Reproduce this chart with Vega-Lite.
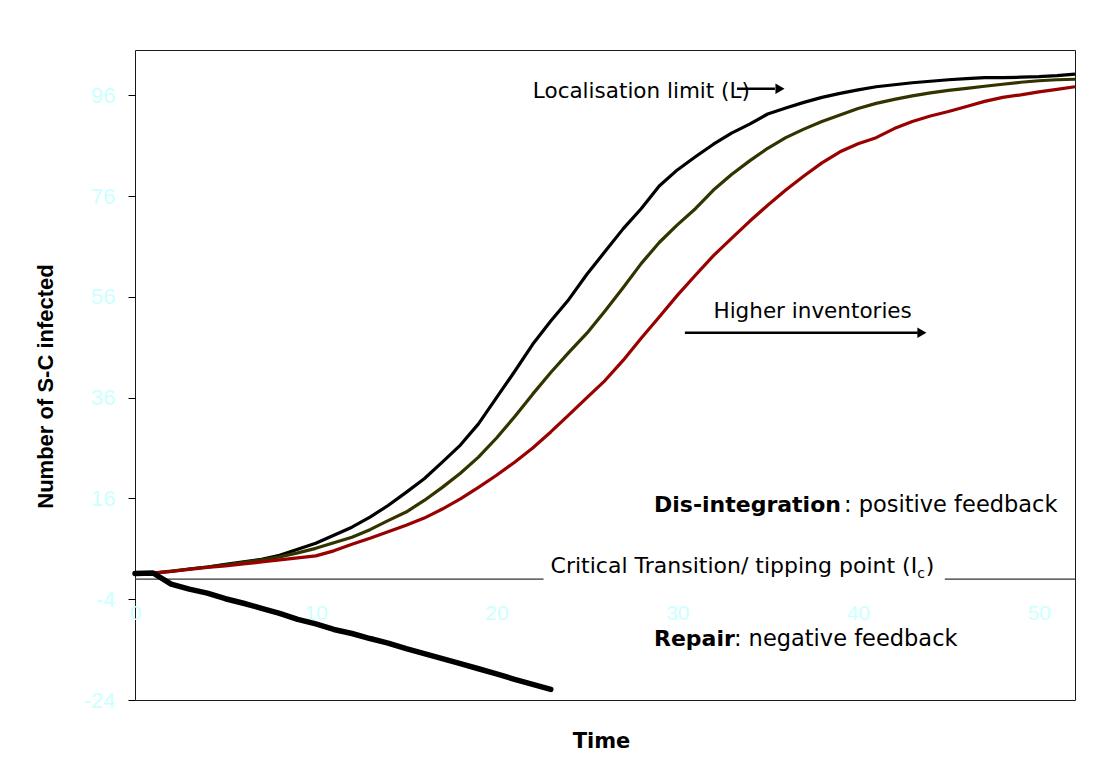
{
  "$schema": "https://vega.github.io/schema/vega-lite/v6.json",
  "width": 940,
  "height": 650,
  "autosize": {"type": "none"},
  "padding": {"left": 135, "top": 50, "right": 39, "bottom": 78},
  "background": "white",
  "config": {"view": {"stroke": "#1a1a1a", "strokeWidth": 1}, "axis": {"grid": false}},
  "datasets": {
    "curves": [
      {"t":0,"v":1.0,"series":"Low inventory"},{"t":1,"v":1.2,"series":"Low inventory"},{"t":2,"v":1.5,"series":"Low inventory"},{"t":3,"v":2.0,"series":"Low inventory"},{"t":4,"v":2.4,"series":"Low inventory"},{"t":5,"v":2.9,"series":"Low inventory"},{"t":6,"v":3.4,"series":"Low inventory"},{"t":7,"v":3.9,"series":"Low inventory"},{"t":8,"v":4.7,"series":"Low inventory"},{"t":9,"v":5.9,"series":"Low inventory"},{"t":10,"v":7.1,"series":"Low inventory"},{"t":11,"v":8.7,"series":"Low inventory"},{"t":12,"v":10.3,"series":"Low inventory"},{"t":13,"v":12.3,"series":"Low inventory"},{"t":14,"v":14.6,"series":"Low inventory"},{"t":15,"v":17.2,"series":"Low inventory"},{"t":16,"v":19.9,"series":"Low inventory"},{"t":17,"v":23.2,"series":"Low inventory"},{"t":18,"v":26.6,"series":"Low inventory"},{"t":19,"v":30.8,"series":"Low inventory"},{"t":20,"v":36.0,"series":"Low inventory"},{"t":21,"v":41.2,"series":"Low inventory"},{"t":22,"v":46.6,"series":"Low inventory"},{"t":23,"v":51.2,"series":"Low inventory"},{"t":24,"v":55.5,"series":"Low inventory"},{"t":25,"v":60.5,"series":"Low inventory"},{"t":26,"v":65.0,"series":"Low inventory"},{"t":27,"v":69.5,"series":"Low inventory"},{"t":28,"v":73.5,"series":"Low inventory"},{"t":29,"v":78.0,"series":"Low inventory"},{"t":30,"v":81.2,"series":"Low inventory"},{"t":31,"v":83.8,"series":"Low inventory"},{"t":32,"v":86.3,"series":"Low inventory"},{"t":33,"v":88.5,"series":"Low inventory"},{"t":34,"v":90.3,"series":"Low inventory"},{"t":35,"v":92.3,"series":"Low inventory"},{"t":36,"v":93.5,"series":"Low inventory"},{"t":37,"v":94.6,"series":"Low inventory"},{"t":38,"v":95.6,"series":"Low inventory"},{"t":39,"v":96.4,"series":"Low inventory"},{"t":40,"v":97.1,"series":"Low inventory"},{"t":41,"v":97.7,"series":"Low inventory"},{"t":42,"v":98.1,"series":"Low inventory"},{"t":43,"v":98.5,"series":"Low inventory"},{"t":44,"v":98.8,"series":"Low inventory"},{"t":45,"v":99.1,"series":"Low inventory"},{"t":46,"v":99.3,"series":"Low inventory"},{"t":47,"v":99.5,"series":"Low inventory"},{"t":48,"v":99.5,"series":"Low inventory"},{"t":49,"v":99.6,"series":"Low inventory"},{"t":50,"v":99.7,"series":"Low inventory"},{"t":51,"v":99.9,"series":"Low inventory"},{"t":52,"v":100.2,"series":"Low inventory"},
      {"t":0,"v":1.0,"series":"Medium inventory"},{"t":1,"v":1.2,"series":"Medium inventory"},{"t":2,"v":1.6,"series":"Medium inventory"},{"t":3,"v":2.0,"series":"Medium inventory"},{"t":4,"v":2.4,"series":"Medium inventory"},{"t":5,"v":2.8,"series":"Medium inventory"},{"t":6,"v":3.3,"series":"Medium inventory"},{"t":7,"v":3.8,"series":"Medium inventory"},{"t":8,"v":4.4,"series":"Medium inventory"},{"t":9,"v":5.2,"series":"Medium inventory"},{"t":10,"v":6.1,"series":"Medium inventory"},{"t":11,"v":7.2,"series":"Medium inventory"},{"t":12,"v":8.3,"series":"Medium inventory"},{"t":13,"v":9.8,"series":"Medium inventory"},{"t":14,"v":11.6,"series":"Medium inventory"},{"t":15,"v":13.3,"series":"Medium inventory"},{"t":16,"v":15.6,"series":"Medium inventory"},{"t":17,"v":18.2,"series":"Medium inventory"},{"t":18,"v":21.0,"series":"Medium inventory"},{"t":19,"v":24.2,"series":"Medium inventory"},{"t":20,"v":28.0,"series":"Medium inventory"},{"t":21,"v":32.2,"series":"Medium inventory"},{"t":22,"v":36.7,"series":"Medium inventory"},{"t":23,"v":41.0,"series":"Medium inventory"},{"t":24,"v":45.0,"series":"Medium inventory"},{"t":25,"v":48.8,"series":"Medium inventory"},{"t":26,"v":53.2,"series":"Medium inventory"},{"t":27,"v":57.8,"series":"Medium inventory"},{"t":28,"v":62.6,"series":"Medium inventory"},{"t":29,"v":66.8,"series":"Medium inventory"},{"t":30,"v":70.3,"series":"Medium inventory"},{"t":31,"v":73.5,"series":"Medium inventory"},{"t":32,"v":77.2,"series":"Medium inventory"},{"t":33,"v":80.3,"series":"Medium inventory"},{"t":34,"v":83.0,"series":"Medium inventory"},{"t":35,"v":85.5,"series":"Medium inventory"},{"t":36,"v":87.6,"series":"Medium inventory"},{"t":37,"v":89.3,"series":"Medium inventory"},{"t":38,"v":90.8,"series":"Medium inventory"},{"t":39,"v":92.1,"series":"Medium inventory"},{"t":40,"v":93.4,"series":"Medium inventory"},{"t":41,"v":94.4,"series":"Medium inventory"},{"t":42,"v":95.2,"series":"Medium inventory"},{"t":43,"v":95.9,"series":"Medium inventory"},{"t":44,"v":96.5,"series":"Medium inventory"},{"t":45,"v":97.0,"series":"Medium inventory"},{"t":46,"v":97.4,"series":"Medium inventory"},{"t":47,"v":97.8,"series":"Medium inventory"},{"t":48,"v":98.2,"series":"Medium inventory"},{"t":49,"v":98.6,"series":"Medium inventory"},{"t":50,"v":98.9,"series":"Medium inventory"},{"t":51,"v":99.1,"series":"Medium inventory"},{"t":52,"v":99.2,"series":"Medium inventory"},
      {"t":0,"v":1.0,"series":"High inventory"},{"t":1,"v":1.2,"series":"High inventory"},{"t":2,"v":1.5,"series":"High inventory"},{"t":3,"v":1.9,"series":"High inventory"},{"t":4,"v":2.3,"series":"High inventory"},{"t":5,"v":2.6,"series":"High inventory"},{"t":6,"v":3.0,"series":"High inventory"},{"t":7,"v":3.4,"series":"High inventory"},{"t":8,"v":3.8,"series":"High inventory"},{"t":9,"v":4.2,"series":"High inventory"},{"t":10,"v":4.6,"series":"High inventory"},{"t":11,"v":5.6,"series":"High inventory"},{"t":12,"v":6.9,"series":"High inventory"},{"t":13,"v":8.1,"series":"High inventory"},{"t":14,"v":9.4,"series":"High inventory"},{"t":15,"v":10.7,"series":"High inventory"},{"t":16,"v":12.1,"series":"High inventory"},{"t":17,"v":13.9,"series":"High inventory"},{"t":18,"v":15.9,"series":"High inventory"},{"t":19,"v":18.2,"series":"High inventory"},{"t":20,"v":20.6,"series":"High inventory"},{"t":21,"v":23.2,"series":"High inventory"},{"t":22,"v":26.0,"series":"High inventory"},{"t":23,"v":29.2,"series":"High inventory"},{"t":24,"v":32.6,"series":"High inventory"},{"t":25,"v":36.0,"series":"High inventory"},{"t":26,"v":39.4,"series":"High inventory"},{"t":27,"v":43.4,"series":"High inventory"},{"t":28,"v":47.8,"series":"High inventory"},{"t":29,"v":52.0,"series":"High inventory"},{"t":30,"v":56.3,"series":"High inventory"},{"t":31,"v":60.3,"series":"High inventory"},{"t":32,"v":64.2,"series":"High inventory"},{"t":33,"v":67.6,"series":"High inventory"},{"t":34,"v":71.0,"series":"High inventory"},{"t":35,"v":74.2,"series":"High inventory"},{"t":36,"v":77.2,"series":"High inventory"},{"t":37,"v":80.0,"series":"High inventory"},{"t":38,"v":82.6,"series":"High inventory"},{"t":39,"v":84.8,"series":"High inventory"},{"t":40,"v":86.4,"series":"High inventory"},{"t":41,"v":87.6,"series":"High inventory"},{"t":42,"v":89.4,"series":"High inventory"},{"t":43,"v":90.8,"series":"High inventory"},{"t":44,"v":91.9,"series":"High inventory"},{"t":45,"v":92.8,"series":"High inventory"},{"t":46,"v":93.8,"series":"High inventory"},{"t":47,"v":94.8,"series":"High inventory"},{"t":48,"v":95.6,"series":"High inventory"},{"t":49,"v":96.1,"series":"High inventory"},{"t":50,"v":96.7,"series":"High inventory"},{"t":51,"v":97.2,"series":"High inventory"},{"t":52,"v":97.7,"series":"High inventory"}
    ],
    "repair": [
      {"t":0,"v":1.1},{"t":1,"v":1.2},{"t":2,"v":-1.0},{"t":3,"v":-2.0},{"t":4,"v":-2.8},{"t":5,"v":-3.9},{"t":6,"v":-4.8},{"t":7,"v":-5.8},{"t":8,"v":-6.8},{"t":9,"v":-8.0},{"t":10,"v":-8.9},{"t":11,"v":-10.0},{"t":12,"v":-10.8},{"t":13,"v":-11.8},{"t":14,"v":-12.7},{"t":15,"v":-13.8},{"t":16,"v":-14.8},{"t":17,"v":-15.8},{"t":18,"v":-16.8},{"t":19,"v":-17.8},{"t":20,"v":-18.8},{"t":21,"v":-19.9},{"t":22,"v":-20.9},{"t":23,"v":-21.9}
    ]
  },
  "layer": [
    {
      "data": {"values": [{"t": 0, "t2": 22.6, "v": 0}, {"t": 44.8, "t2": 52, "v": 0}]},
      "mark": {"type": "rule", "color": "#333333", "strokeWidth": 1.2},
      "encoding": {
        "x": {"field": "t", "type": "quantitative", "scale": {"domain": [0, 52], "nice": false, "zero": false},
          "axis": {"values": [0, 10, 20, 30, 40, 50], "offset": -100, "domain": false, "ticks": false, "labelPadding": 2, "labelFlush": false, "labelOverlap": false,
            "labelExpr": "'' + datum.value",
            "labelFont": "Liberation Sans", "labelFontSize": 21, "labelColor": "#ccffff",
            "title": "Time", "titleFont": "DejaVu Sans", "titleFontSize": 21, "titleFontWeight": "bold", "titleColor": "#000000",
            "titleX": 466, "titleY": 147, "titleAlign": "center", "titleBaseline": "alphabetic"}},
        "x2": {"field": "t2"},
        "y": {"field": "v", "type": "quantitative", "scale": {"domain": [-24, 105], "nice": false, "zero": false},
          "axis": {"values": [-24, -4, 16, 36, 56, 76, 96], "domain": false, "tickSize": 7, "tickColor": "#000000", "labelPadding": 13, "labelOverlap": false,
            "labelExpr": "'' + datum.value",
            "labelFont": "Liberation Sans", "labelFontSize": 22, "labelColor": "#ccffff",
            "title": "Number of S-C infected", "titleFont": "Liberation Sans", "titleFontSize": 22, "titleFontWeight": "bold", "titleColor": "#000000",
            "titleX": -83, "titleY": 336, "titleAngle": 270, "titleAlign": "center", "titleBaseline": "alphabetic"}}
      }
    },
    {
      "data": {"name": "curves"},
      "mark": {"type": "line", "strokeWidth": 3.2, "strokeJoin": "round"},
      "encoding": {
        "x": {"field": "t", "type": "quantitative"},
        "y": {"field": "v", "type": "quantitative"},
        "color": {"field": "series", "type": "nominal", "sort": null,
          "scale": {"domain": ["Low inventory", "Medium inventory", "High inventory"], "range": ["#000000", "#333300", "#990000"]},
          "legend": null}
      }
    },
    {
      "data": {"name": "repair"},
      "mark": {"type": "line", "strokeWidth": 5.5, "color": "#000000", "strokeJoin": "round", "strokeCap": "round"},
      "encoding": {
        "x": {"field": "t", "type": "quantitative"},
        "y": {"field": "v", "type": "quantitative"}
      }
    },
    {
      "data": {"values": [{"t": 30.42, "t2": 43.3, "v": 48.9}, {"t": 33.3, "t2": 35.4, "v": 97.3}]},
      "mark": {"type": "rule", "color": "#000000", "strokeWidth": 2.5},
      "encoding": {
        "x": {"field": "t", "type": "quantitative"},
        "x2": {"field": "t2"},
        "y": {"field": "v", "type": "quantitative"}
      }
    },
    {
      "data": {"values": [{"t": 43.53, "v": 48.9}, {"t": 35.68, "v": 97.3}]},
      "mark": {"type": "point", "shape": "triangle-right", "filled": true, "color": "#000000", "size": 110, "opacity": 1, "strokeWidth": 0},
      "encoding": {
        "x": {"field": "t", "type": "quantitative"},
        "y": {"field": "v", "type": "quantitative"}
      }
    },
    {
      "data": {"values": [
        {"t": 22.01, "v": 95.5, "label": "Localisation limit (L)"},
        {"t": 32.0, "v": 51.9, "label": "Higher inventories"}
      ]},
      "mark": {"type": "text", "font": "DejaVu Sans", "fontSize": 21.5, "align": "left", "baseline": "alphabetic", "color": "#000000"},
      "encoding": {
        "x": {"field": "t", "type": "quantitative"},
        "y": {"field": "v", "type": "quantitative"},
        "text": {"field": "label"}
      }
    },
    {
      "data": {"values": [
        {"t": 22.99, "v": 1.3, "label": "Critical Transition/ tipping point (I"},
        {"t": 43.75, "v": 1.3, "label": ")"}
      ]},
      "mark": {"type": "text", "font": "DejaVu Sans", "fontSize": 22, "align": "left", "baseline": "alphabetic", "color": "#000000"},
      "encoding": {
        "x": {"field": "t", "type": "quantitative"},
        "y": {"field": "v", "type": "quantitative"},
        "text": {"field": "label"}
      }
    },
    {
      "data": {"values": [{"t": 43.28, "v": 0.2, "label": "c"}]},
      "mark": {"type": "text", "font": "DejaVu Sans", "fontSize": 14, "align": "left", "baseline": "alphabetic", "color": "#000000"},
      "encoding": {
        "x": {"field": "t", "type": "quantitative"},
        "y": {"field": "v", "type": "quantitative"},
        "text": {"field": "label"}
      }
    },
    {
      "data": {"values": [
        {"t": 28.71, "v": 13.3, "label": "Dis-integration"},
        {"t": 28.71, "v": -13.2, "label": "Repair"}
      ]},
      "mark": {"type": "text", "font": "DejaVu Sans", "fontWeight": "bold", "fontSize": 22, "align": "left", "baseline": "alphabetic", "color": "#000000"},
      "encoding": {
        "x": {"field": "t", "type": "quantitative"},
        "y": {"field": "v", "type": "quantitative"},
        "text": {"field": "label"}
      }
    },
    {
      "data": {"values": [
        {"t": 39.22, "v": 13.3, "label": ": positive feedback"},
        {"t": 33.13, "v": -13.2, "label": ": negative feedback"}
      ]},
      "mark": {"type": "text", "font": "DejaVu Sans", "fontSize": 22.5, "align": "left", "baseline": "alphabetic", "color": "#000000"},
      "encoding": {
        "x": {"field": "t", "type": "quantitative"},
        "y": {"field": "v", "type": "quantitative"},
        "text": {"field": "label"}
      }
    }
  ]
}
